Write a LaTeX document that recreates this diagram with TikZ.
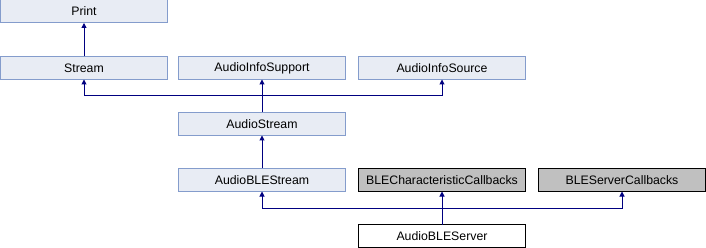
\documentclass[tikz,border=0pt]{standalone}
\usepackage{fontspec}
\setmainfont{Liberation Sans}
\usetikzlibrary{arrows.meta}
\definecolor{edgeblue}{RGB}{0,0,128}
\definecolor{clsfill}{RGB}{232,236,244}
\definecolor{clsdraw}{RGB}{132,156,204}
\definecolor{extfill}{RGB}{192,192,192}
\tikzset{
  cls/.style={draw=clsdraw, fill=clsfill, line width=1pt, minimum width=167pt,
    minimum height=23pt, inner sep=0pt, outer sep=0pt,
    font=\fontsize{12.3pt}{14pt}\selectfont},
  extcls/.style={cls, draw=black, fill=extfill},
  curcls/.style={cls, draw=black, fill=white},
  link/.style={draw=edgeblue, line width=1pt},
  inh/.style={link, -{Triangle[length=5pt,width=5pt]}}
}
\begin{document}
\begin{tikzpicture}[x=1pt, y=-1pt]
  \useasboundingbox (0,0) rectangle (706,248);
  % class boxes
  \node[cls] (print) at (84,11.5) {Print};
  \node[cls] (stream) at (84,68) {Stream};
  \node[cls] (infosup) at (262,68) {AudioInfoSupport};
  \node[cls] (infosrc) at (442,68) {AudioInfoSource};
  \node[cls] (astream) at (262,124) {AudioStream};
  \node[cls] (blestream) at (262,180) {AudioBLEStream};
  \node[extcls] (charcb) at (442,180) {BLECharacteristicCallbacks};
  \node[extcls] (servcb) at (622,180) {BLEServerCallbacks};
  \node[curcls] (server) at (442,236) {AudioBLEServer};
  % junctions
  \coordinate (j1) at (262,96);
  \coordinate (j2) at (442,208);
  % inheritance links
  \draw[inh] (stream.north) -- (print.south);
  \draw[link] (astream.north) -- (j1);
  \draw[inh] (j1) -| (stream.south);
  \draw[inh] (j1) -- (infosup.south);
  \draw[inh] (j1) -| (infosrc.south);
  \draw[inh] (blestream.north) -- (astream.south);
  \draw[link] (server.north) -- (j2);
  \draw[inh] (j2) -| (blestream.south);
  \draw[inh] (j2) -- (charcb.south);
  \draw[inh] (j2) -| (servcb.south);
\end{tikzpicture}
\end{document}
